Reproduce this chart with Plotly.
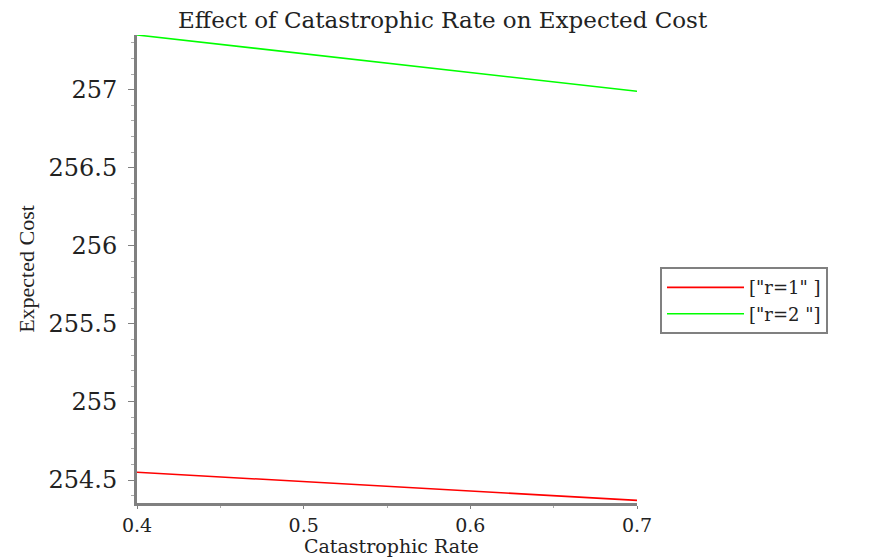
import plotly.graph_objects as go

# Catastrophic rate vs expected cost
rate = [0.4, 0.7]
cost_r1 = [254.55, 254.37]
cost_r2 = [257.35, 256.99]
series_names = ['["r=1" ]', '["r=2 "]']
x_ticks = [0.4, 0.5, 0.6, 0.7]
y_ticks = [254.5, 255, 255.5, 256, 256.5, 257]

FONT = "DejaVu Serif, Liberation Serif, serif"
AXIS_GREY = "#808080"

fig = go.Figure()
fig.add_trace(go.Scatter(x=rate, y=cost_r1, mode="lines", name=series_names[0],
                         line={"color": "#ff0000", "width": 1.6}))
fig.add_trace(go.Scatter(x=rate, y=cost_r2, mode="lines", name=series_names[1],
                         line={"color": "#00ff00", "width": 1.6}))

# page body adds 8px margin, so offsets below are shifted by 8
fig.update_layout(
    template="none",
    width=878, height=560,
    paper_bgcolor="white", plot_bgcolor="white",
    font={"family": FONT, "color": "#222222", "size": 22},
    margin={"t": 27, "b": 65, "l": 129, "r": 249},
    title={"text": "Effect of Catastrophic Rate on Expected Cost",
           "x": 0.495, "xanchor": "center", "xref": "container",
           "y": 1, "yref": "container", "yanchor": "top", "pad": {"t": 4},
           "font": {"size": 23}},
    legend={"x": 1.046, "y": 0.504, "xanchor": "left", "yanchor": "top",
            "bordercolor": AXIS_GREY, "borderwidth": 2, "bgcolor": "white",
            "font": {"size": 18}, "tracegroupgap": 0, "itemwidth": 77},
    annotations=[{"text": "Catastrophic Rate", "xref": "paper", "yref": "paper",
                  "x": 0.508, "y": -0.091, "xanchor": "center", "yanchor": "middle",
                  "showarrow": False, "font": {"size": 19}}],
    xaxis={"range": [0.4, 0.7], "tickvals": x_ticks, "ticktext": ["0.4", "0.5", "0.6", "0.7"],
           "automargin": False, "tickfont": {"size": 19},
           "showgrid": False, "zeroline": False, "showline": True,
           "linecolor": AXIS_GREY, "linewidth": 3, "ticks": "outside",
           "ticklen": 3, "tickcolor": AXIS_GREY,
           "minor": {"dtick": 0.05, "ticks": "outside", "ticklen": 2, "tickcolor": "#aaaaaa"}},
    yaxis={"range": [254.353, 257.35], "tickvals": y_ticks,
           "ticktext": ["254.5", "255", "255.5", "256", "256.5", "257"],
           "automargin": False, "tickfont": {"size": 24}, "ticklabelstandoff": 6,
           "showgrid": False, "zeroline": False, "showline": True,
           "linecolor": AXIS_GREY, "linewidth": 3, "ticks": "outside",
           "ticklen": 6, "tickcolor": AXIS_GREY,
           "minor": {"dtick": 0.1, "ticks": "outside", "ticklen": 3, "tickcolor": "#aaaaaa"},
           "title": {"text": "Expected Cost", "standoff": 8,
                     "font": {"size": 22, "family": "Liberation Serif, serif"}}},
)

fig.write_html("out.html")
